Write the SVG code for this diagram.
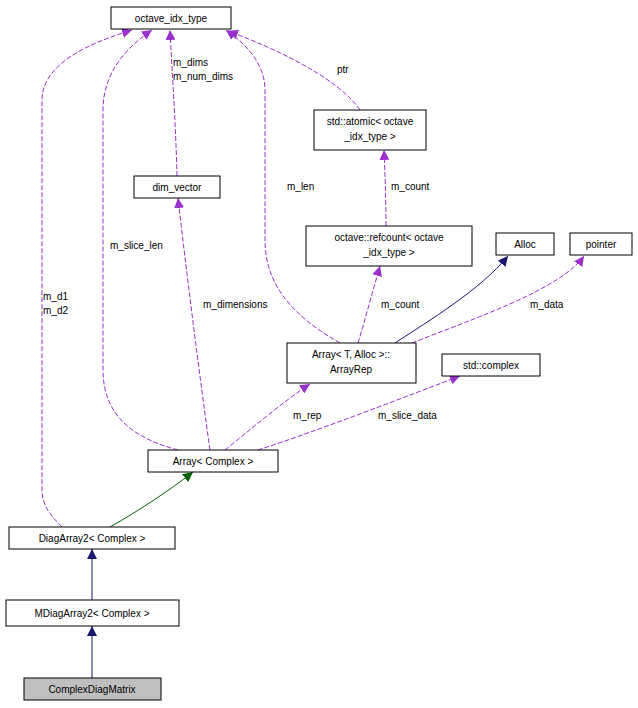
<svg xmlns="http://www.w3.org/2000/svg" width="638" height="708" viewBox="0 0 638 708">
<style>
text{font-family:"Liberation Sans",Arial,sans-serif;font-size:10px;fill:#000}
.n rect{fill:#fff;stroke:#000;stroke-width:1}
.c{fill:none;stroke:#9a32cd;stroke-dasharray:5,2}
.b{fill:none;stroke:#191970}
.g{fill:none;stroke:#006400}
.m{text-anchor:middle}
</style>
<defs>
<marker id="ap" viewBox="0 0 10 10" refX="10" refY="5" markerWidth="10" markerHeight="10" markerUnits="userSpaceOnUse" orient="auto"><path d="M0,0L10,5L0,10z" fill="#9a32cd"/></marker>
<marker id="ab" viewBox="0 0 10 10" refX="10" refY="5" markerWidth="10" markerHeight="10" markerUnits="userSpaceOnUse" orient="auto"><path d="M0,0L10,5L0,10z" fill="#191970"/></marker>
<marker id="ag" viewBox="0 0 10 10" refX="10" refY="5" markerWidth="10" markerHeight="10" markerUnits="userSpaceOnUse" orient="auto"><path d="M0,0L10,5L0,10z" fill="#006400"/></marker>
</defs>
<g id="connectors">
<path class="c" marker-end="url(#ap)" d="M62,527C50,515 42,505 42,490V100C42,60 100,40 132,30"/>
<text x="43" y="300">m_d1</text><text x="43" y="314">m_d2</text>
<path class="c" marker-end="url(#ap)" d="M178,450C140,440 103,420 103,370V110C103,70 130,45 152,30"/>
<text x="110" y="249">m_slice_len</text>
<path class="c" marker-end="url(#ap)" d="M177,176C176,130 172,70 170,30"/>
<text x="173" y="66">m_dims</text><text x="173" y="80">m_num_dims</text>
<path class="c" marker-end="url(#ap)" d="M340,343C300,320 265,290 265,240V90C265,60 240,40 226,30"/>
<text x="287" y="190">m_len</text>
<path class="c" marker-end="url(#ap)" d="M360,110C340,80 280,50 228,31"/>
<text x="337" y="73">ptr</text>
<path class="c" marker-end="url(#ap)" d="M386,226C386,200 385,175 384,150"/>
<text x="391" y="190">m_count</text>
<path class="c" marker-end="url(#ap)" d="M358,343C365,320 373,290 380,266"/>
<text x="381" y="308">m_count</text>
<path class="b" marker-end="url(#ab)" d="M395,343C430,320 480,290 508,256"/>
<path class="c" marker-end="url(#ap)" d="M412,343C470,320 560,290 584,256"/>
<text x="530" y="308">m_data</text>
<path class="c" marker-end="url(#ap)" d="M210,450C200,380 185,260 178,198"/>
<text x="203" y="308">m_dimensions</text>
<path class="c" marker-end="url(#ap)" d="M225,450C250,430 285,400 310,384"/>
<text x="293" y="419">m_rep</text>
<path class="c" marker-end="url(#ap)" d="M258,450C320,430 410,395 460,376"/>
<text x="378" y="419">m_slice_data</text>
<path class="g" marker-end="url(#ag)" d="M110,527C140,510 170,490 193,472"/>
<path class="b" marker-end="url(#ab)" d="M92,600V549"/>
<path class="b" marker-end="url(#ab)" d="M92,678V626"/>
</g>
<g id="octave_idx_type" class="n"><rect x="111" y="7" width="120" height="22"/><text class="m" x="171" y="22">octave_idx_type</text></g>
<g id="atomic" class="n"><rect x="314" y="110" width="112" height="40"/><text class="m" x="370" y="125">std::atomic&lt; octave</text><text class="m" x="370" y="140">_idx_type &gt;</text></g>
<g id="dim_vector" class="n"><rect x="134" y="176" width="86" height="22"/><text class="m" x="177" y="191">dim_vector</text></g>
<g id="refcount" class="n"><rect x="306" y="226" width="166" height="40"/><text class="m" x="389" y="241">octave::refcount&lt; octave</text><text class="m" x="389" y="256">_idx_type &gt;</text></g>
<g id="Alloc" class="n"><rect x="496" y="233" width="58" height="22"/><text class="m" x="525" y="248">Alloc</text></g>
<g id="pointer" class="n"><rect x="570" y="233" width="62" height="22"/><text class="m" x="601" y="248">pointer</text></g>
<g id="ArrayRep" class="n"><rect x="287" y="343" width="129" height="40"/><text class="m" x="351" y="358">Array&lt; T, Alloc &gt;::</text><text class="m" x="351" y="373">ArrayRep</text></g>
<g id="std_complex" class="n"><rect x="442" y="354" width="98" height="22"/><text class="m" x="491" y="369">std::complex</text></g>
<g id="Array_Complex" class="n"><rect x="148" y="450" width="130" height="22"/><text class="m" x="213" y="465">Array&lt; Complex &gt;</text></g>
<g id="DiagArray2" class="n"><rect x="9" y="527" width="166" height="22"/><text class="m" x="92" y="542">DiagArray2&lt; Complex &gt;</text></g>
<g id="MDiagArray2" class="n"><rect x="6" y="600" width="173" height="26"/><text class="m" x="92" y="617">MDiagArray2&lt; Complex &gt;</text></g>
<g id="ComplexDiagMatrix" class="n"><rect x="24" y="678" width="137" height="22" style="fill:#bfbfbf"/><text class="m" x="92" y="693">ComplexDiagMatrix</text></g>
</svg>
